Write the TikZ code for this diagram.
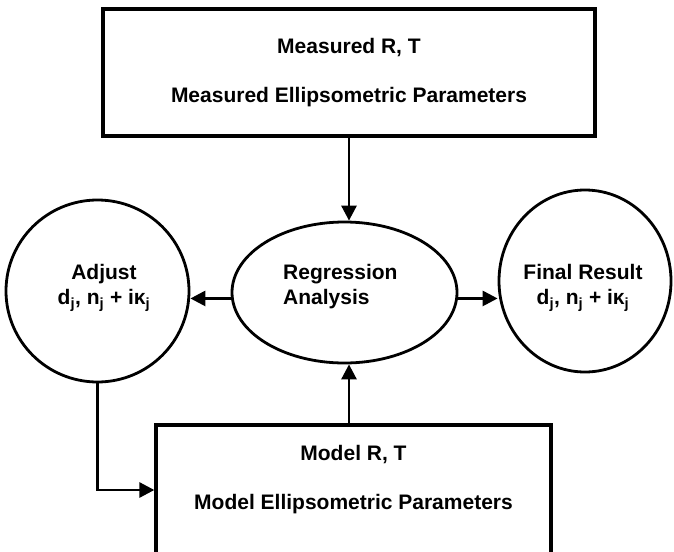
\documentclass[tikz,border=0pt]{standalone}
\usepackage{fontspec}
\setmainfont{Liberation Sans}
\usetikzlibrary{shapes.geometric,arrows.meta}

\begin{document}
\begin{tikzpicture}[x=1pt, y=-1pt,
    box/.style={draw=lineColour, line width=3.3pt, rectangle, inner sep=0pt},
    bubble/.style={draw=lineColour, line width=2.8pt, ellipse, inner sep=0pt},
    boxtext/.style={align=center, inner sep=0pt, font=\bfseries\fontsize{21}{49}\selectfont},
    bubbletext/.style={inner sep=0pt, font=\bfseries\fontsize{21}{25}\selectfont},
    flow/.style={draw=lineColour, line width=2.8pt, -{Triangle[length=15pt,width=15pt]}}]
    % Define colours
    \definecolor{lineColour}{HTML}{000000}
    \definecolor{paperColour}{HTML}{FFFFFF}

    % Fix canvas
    \fill[paperColour] (0,0) rectangle (674,551);
    \useasboundingbox (0,0) rectangle (674,551);
    \clip (0,0) rectangle (674,551);

    % Draw boxes
    \node[box, boxtext, minimum width=492pt, minimum height=127pt] (measured) at (349,72.5)
        {Measured R, T\\Measured Ellipsometric Parameters};
    \node[box, minimum width=395pt, minimum height=130pt] (model) at (353.5,490) {};
    \node[boxtext] (modeltext) at (353.5,480) {Model R, T\\Model Ellipsometric Parameters};

    % Draw bubbles
    \node[bubble, minimum width=225pt, minimum height=141pt] (regression) at (344.5,292.5) {};
    \node[bubble, minimum width=183pt, minimum height=182pt] (adjust) at (97.5,291) {};
    \node[bubble, minimum width=172pt, minimum height=182pt] (final) at (585,281) {};

    % Bubble texts
    \node[bubbletext, align=left, anchor=west] (regressiontext) at (283,286.5) {Regression\\Analysis};
    \node[bubbletext, align=center] (adjusttext) at (104,288)
        {Adjust\\d\textsubscript{j}, n\textsubscript{j} + iκ\textsubscript{j}};
    \node[bubbletext, align=center] (finaltext) at (583,288)
        {Final Result\\d\textsubscript{j}, n\textsubscript{j} + iκ\textsubscript{j}};

    % Draw connectors
    \draw[flow] (measured.south) -- (regression.north -| measured.south);
    \draw[flow] (model.north -| measured.south) -- (regression.south -| measured.south);
    \draw[flow] (regression.183) -- (regression.183 -| adjust.east);
    \draw[flow] (regression.357) -- (regression.357 -| final.west);
    \draw[flow] (adjust.south) |- (model.west);

\end{tikzpicture}
\end{document}
